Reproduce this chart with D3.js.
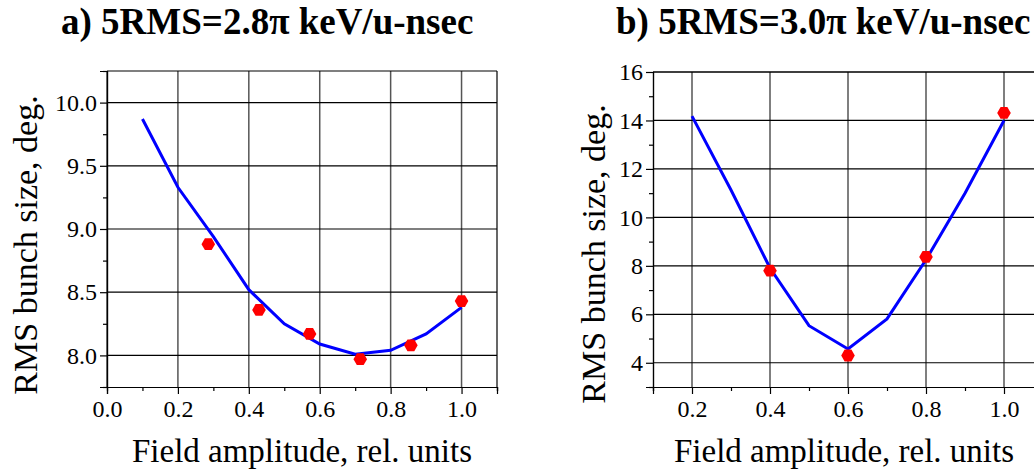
<!DOCTYPE html>
<html>
<head>
<meta charset="utf-8">
<script src="https://cdn.jsdelivr.net/npm/d3@7"></script>
<style>
  body { margin: 0; background: #fff; }
  svg { display: block; font-family: 'Liberation Serif', 'Times New Roman', serif; }
  .axis path, .axis line { stroke: #000; stroke-width: 1.2; }
</style>
</head>
<body>
<div id="chart"></div>
<script>
// panel a) 5RMS=2.8pi
const titleA = 'a) 5RMS=2.8\u03c0 keV/u-nsec'
const fieldA = [0.1, 0.2, 0.3, 0.4, 0.5, 0.6, 0.7, 0.8, 0.9, 1.0]
const simA = [9.87, 9.33, 8.94, 8.52, 8.25, 8.09, 8.01, 8.04, 8.17, 8.38]
const measFieldA = [0.2857, 0.4286, 0.5714, 0.7143, 0.8571, 1.0]
const measA = [8.88, 8.36, 8.17, 7.97, 8.08, 8.43]
const xTicksA = [0, 0.2, 0.4, 0.6, 0.8, 1.0]
const yTicksA = [8.0, 8.5, 9.0, 9.5, 10.0]

// panel b) 5RMS=3.0pi
const titleB = 'b) 5RMS=3.0\u03c0 keV/u-nsec'
const fieldB = [0.2, 0.3, 0.4, 0.5, 0.6, 0.7, 0.8, 0.9, 1.0]
const simB = [14.18, 11.13, 7.91, 5.53, 4.57, 5.81, 8.25, 11.0, 14.0]
const measFieldB = [0.4, 0.6, 0.8, 1.0]
const measB = [7.8, 4.3, 8.37, 14.31]
const xTicksB = [0.2, 0.4, 0.6, 0.8, 1.0]
const yTicksB = [4, 6, 8, 10, 12, 14, 16]

const yLabel = 'RMS bunch size, deg.'
const xLabel = 'Field amplitude, rel. units'

const width = 1034
const height = 471
const serif = "'Liberation Serif', 'Times New Roman', serif"

const svg = d3
  .select('#chart')
  .append('svg')
  .attr('width', width)
  .attr('height', height)

// flat-topped hexagon marker
const hexagon = {
  draw(context, size) {
    const r = Math.sqrt(size / (1.5 * Math.sqrt(3)))
    for (let i = 0; i < 6; i++) {
      const a = (Math.PI / 3) * i
      const x = r * Math.cos(a)
      const y = r * Math.sin(a)
      if (i === 0) context.moveTo(x, y)
      else context.lineTo(x, y)
    }
    context.closePath()
  }
}

function drawPanel(p) {
  const x = d3.scaleLinear().domain(p.xDomain).range([p.left, p.right])
  const y = d3.scaleLinear().domain(p.yDomain).range([p.bottom, p.top])

  const g = svg.append('g')

  // grid
  g.selectAll('.vgrid')
    .data(p.xTicks)
    .enter()
    .append('line')
    .attr('x1', d => x(d))
    .attr('x2', d => x(d))
    .attr('y1', p.top)
    .attr('y2', p.bottom)
    .attr('stroke', '#555')
    .attr('stroke-width', 1.5)

  g.selectAll('.hgrid')
    .data(p.yTicks)
    .enter()
    .append('line')
    .attr('x1', p.left)
    .attr('x2', p.right)
    .attr('y1', d => y(d))
    .attr('y2', d => y(d))
    .attr('stroke', '#000')
    .attr('stroke-width', 1.2)

  // frame top / right
  g.append('line')
    .attr('x1', p.left).attr('x2', p.right)
    .attr('y1', p.top).attr('y2', p.top)
    .attr('stroke', '#000').attr('stroke-width', 1.2)
  g.append('line')
    .attr('x1', p.right).attr('x2', p.right)
    .attr('y1', p.top).attr('y2', p.bottom)
    .attr('stroke', '#000').attr('stroke-width', 1.2)

  // minor ticks
  g.append('g')
    .attr('class', 'axis')
    .attr('transform', `translate(0,${p.bottom})`)
    .call(d3.axisBottom(x).tickValues(p.xMinor).tickSize(4).tickFormat(''))
  g.append('g')
    .attr('class', 'axis')
    .attr('transform', `translate(${p.left},0)`)
    .call(d3.axisLeft(y).tickValues(p.yMinor).tickSize(4).tickFormat(''))

  // major ticks + labels
  g.append('g')
    .attr('class', 'axis')
    .attr('transform', `translate(0,${p.bottom})`)
    .attr('font-family', serif)
    .attr('font-size', 24)
    .call(d3.axisBottom(x).tickValues(p.xTicks).tickSize(7).tickPadding(6).tickFormat(d3.format('.1f')))
  g.append('g')
    .attr('class', 'axis')
    .attr('transform', `translate(${p.left},0)`)
    .attr('font-family', serif)
    .attr('font-size', 24)
    .call(d3.axisLeft(y).tickValues(p.yTicks).tickSize(7).tickPadding(3).tickFormat(d3.format(p.yFormat)))
  g.selectAll('.axis text').attr('font-family', serif).attr('font-size', 24)

  // simulation curve
  const line = d3.line().x(d => x(d[0])).y(d => y(d[1]))
  g.append('path')
    .datum(d3.zip(p.simX, p.simY))
    .attr('d', line)
    .attr('fill', 'none')
    .attr('stroke', '#0000ff')
    .attr('stroke-width', 3)

  // measured points
  g.selectAll('.pt')
    .data(d3.zip(p.measX, p.measY))
    .enter()
    .append('path')
    .attr('d', d3.symbol(hexagon, 120))
    .attr('transform', d => `translate(${x(d[0])},${y(d[1])})`)
    .attr('fill', '#ff0000')

  // labels
  svg.append('text')
    .attr('x', p.titleX)
    .attr('y', 34)
    .attr('font-size', 37)
    .attr('font-weight', 'bold')
    .text(p.title)

  svg.append('text')
    .attr('transform', `translate(${p.yLabelX},${p.yLabelY}) rotate(-90)`)
    .attr('text-anchor', 'middle')
    .attr('font-size', 34)
    .text(yLabel)

  svg.append('text')
    .attr('x', p.xLabelX)
    .attr('y', 462)
    .attr('text-anchor', 'middle')
    .attr('font-size', 33)
    .text(xLabel)
}

drawPanel({
  title: titleA, titleX: 61,
  left: 107, right: 497, top: 71, bottom: 387,
  xDomain: [0, 1.1], yDomain: [7.75, 10.25],
  xTicks: xTicksA, yTicks: yTicksA,
  xMinor: [0.1, 0.3, 0.5, 0.7, 0.9, 1.1],
  yMinor: [7.75, 8.25, 8.75, 9.25, 9.75, 10.25],
  yFormat: '.1f',
  simX: fieldA, simY: simA, measX: measFieldA, measY: measA,
  yLabelX: 37, yLabelY: 245, xLabelX: 302
})

drawPanel({
  title: titleB, titleX: 616,
  left: 653, right: 1043, top: 72, bottom: 387,
  xDomain: [0.1, 1.1], yDomain: [3, 16],
  xTicks: xTicksB, yTicks: yTicksB,
  xMinor: [0.1, 0.3, 0.5, 0.7, 0.9],
  yMinor: [3, 5, 7, 9, 11, 13, 15],
  yFormat: 'd',
  simX: fieldB, simY: simB, measX: measFieldB, measY: measB,
  yLabelX: 605, yLabelY: 254, xLabelX: 844
})
</script>
</body>
</html>
